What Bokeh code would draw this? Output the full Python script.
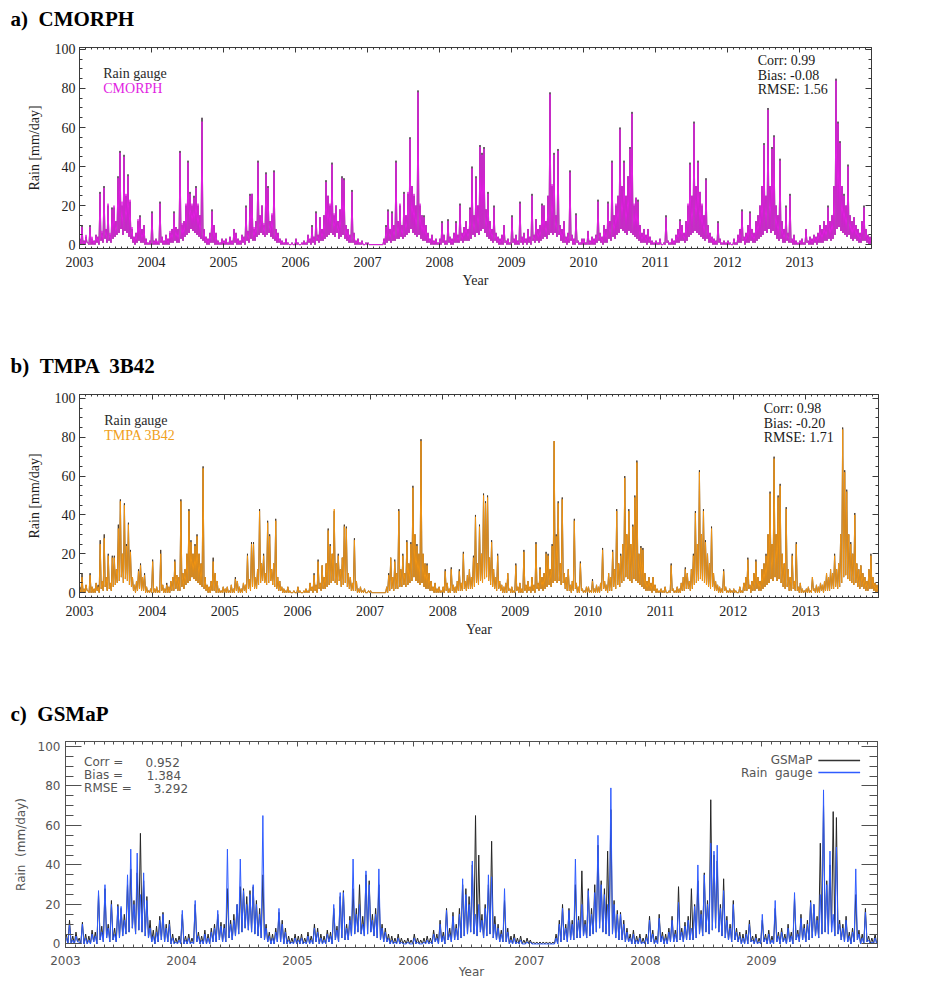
from bokeh.plotting import figure
from bokeh.models import (ColumnDataSource, Range1d, FixedTicker, LinearAxis, Label,
                          CustomJSTickFormatter)
from bokeh.embed import file_html
from bokeh.resources import INLINE

# ---------------- data (10-day resolution, 36 values per year) ----------------
years_ac = list(range(2003, 2014))          # panels a, b
years_c = list(range(2003, 2010))           # panel c
ytick_values = [0, 20, 40, 60, 80, 100]
titles = ["a) \u00a0CMORPH", "b) \u00a0TMPA \u00a03B42", "c) \u00a0GSMaP"]
stats_a = ["Corr: 0.99", "Bias: -0.08", "RMSE: 1.56"]
stats_b = ["Corr: 0.98", "Bias: -0.20", "RMSE: 1.71"]
stats_c_names = ["Corr =", "Bias =", "RMSE ="]
stats_c_values = ["0.952", "1.384", "3.292"]

# dekad maxima
gauge = [
    3,10,2,4,1,10,3,2,5,4,27,6,30,8,20,5,19,19,12,35,48,20,46,25,36,22,8,4,6,12,15,8,10,3,1,2,
    17,2,3,1,22,4,2,5,3,6,8,17,9,8,48,10,12,20,43,27,20,25,30,20,15,65,8,4,3,6,18,10,6,2,1,3,
    2,3,1,4,2,8,6,3,2,5,4,20,7,26,26,8,12,43,15,20,10,37,30,12,15,38,8,6,3,2,1,3,1,0,1,0,
    3,1,0,1,2,1,5,3,10,4,17,5,14,8,15,33,25,20,42,15,20,12,18,35,34,10,8,5,28,6,2,3,1,2,0,1,
    1,0,0,0,0,0,0,0,3,10,18,8,17,10,43,12,20,10,27,15,26,55,30,25,20,79,20,15,15,10,6,3,5,2,3,1,
    3,12,5,2,13,4,3,6,12,5,21,6,9,12,8,19,40,15,35,20,51,47,50,18,27,12,8,20,6,4,3,5,10,2,3,1,
    15,3,5,2,22,4,6,3,8,4,26,5,13,8,10,21,20,12,25,78,30,47,15,49,10,8,12,4,6,38,5,3,16,2,1,3,
    3,1,7,2,4,3,5,23,6,4,10,8,22,12,43,15,20,25,60,30,43,25,35,50,68,20,24,23,10,6,8,5,8,4,2,1,
    2,1,3,0,1,15,2,1,3,2,5,8,13,10,6,12,20,42,25,63,30,43,27,20,15,34,10,6,4,3,2,12,3,1,2,1,
    2,1,0,3,1,5,8,18,4,6,10,17,8,6,12,15,20,30,52,25,70,30,50,56,20,15,44,12,8,20,6,26,3,5,2,1,
    2,3,1,8,2,4,3,5,4,6,10,8,12,10,20,12,15,30,85,63,53,30,26,20,41,15,12,14,10,8,6,12,20,8,5,4,
]

cmorph = [
    3,9,2,5,1,9,4,2,5,4,26,7,29,8,21,6,18,20,12,34,47,22,45,26,35,23,9,4,6,13,14,8,10,3,1,2,
    16,2,3,2,21,4,2,5,3,7,8,16,9,8,47,11,12,21,42,26,21,24,29,21,15,63,8,4,3,6,17,10,6,2,1,3,
    2,3,1,4,2,8,6,3,2,5,4,19,7,25,26,9,12,42,15,20,11,36,29,12,16,37,8,6,3,2,1,3,1,0,1,0,
    3,1,0,1,2,1,5,3,9,4,16,5,14,8,15,32,25,21,41,16,20,12,18,34,33,10,8,5,27,6,2,3,1,2,0,1,
    1,0,0,0,0,0,0,0,3,9,17,8,16,10,42,12,21,10,26,15,27,54,30,26,20,78,21,15,14,10,6,3,5,2,3,1,
    3,11,5,2,12,4,3,6,11,5,20,6,9,12,8,18,39,15,34,20,50,46,49,18,26,12,8,19,6,4,3,5,10,2,3,1,
    14,3,5,2,21,4,6,3,8,4,25,5,13,8,10,20,20,12,25,77,31,46,15,48,10,8,12,4,6,37,5,3,15,2,1,3,
    3,1,7,2,4,3,5,22,6,4,10,8,21,12,42,15,21,25,59,30,42,25,35,49,67,21,24,22,10,6,8,5,8,4,2,1,
    2,1,3,0,1,14,2,1,3,2,5,8,12,10,6,12,21,41,25,62,30,42,27,21,15,33,10,6,4,3,2,11,3,1,2,1,
    2,1,0,3,1,5,8,17,4,6,10,16,8,6,12,15,20,30,51,25,69,30,49,55,20,15,43,12,8,19,6,25,3,5,2,1,
    2,3,1,8,2,4,3,5,4,6,10,8,12,10,19,12,15,30,84,62,52,30,25,20,40,15,12,14,10,8,6,12,19,8,5,4,
]

tmpa = [
    2,8,2,4,1,9,3,2,5,3,25,6,28,8,19,5,18,18,12,33,47,20,45,24,35,21,8,4,6,11,14,8,9,3,1,2,
    16,2,3,1,20,4,2,4,3,6,8,16,9,8,47,10,12,20,42,26,20,24,29,20,15,64,8,4,3,6,16,10,6,2,1,3,
    2,3,1,4,2,7,6,3,2,5,4,19,7,25,25,8,12,42,15,19,10,36,29,12,15,37,8,6,3,2,1,3,1,0,1,0,
    3,1,0,1,2,1,5,3,9,4,16,5,14,8,15,32,24,20,43,15,19,12,18,34,33,10,8,5,27,6,2,3,1,2,0,1,
    1,0,0,0,0,0,0,0,3,9,18,8,16,10,42,12,19,10,26,15,25,54,30,24,20,78,20,15,14,10,6,3,5,2,3,1,
    3,11,5,2,12,4,3,6,11,5,20,6,9,12,8,18,39,15,34,20,50,46,49,18,26,12,8,19,6,4,3,5,10,2,3,1,
    14,3,5,2,21,4,6,3,8,4,25,5,12,8,10,20,19,12,24,78,29,46,15,48,10,8,12,4,6,37,5,3,15,2,1,3,
    3,1,6,2,4,3,5,22,6,4,10,8,21,12,42,15,19,25,59,30,42,25,34,49,67,20,23,22,10,6,8,5,8,4,2,1,
    2,1,3,0,1,14,2,1,3,2,5,8,12,10,6,12,19,41,25,62,30,42,26,20,15,33,10,6,4,3,2,11,3,1,2,1,
    2,1,0,3,1,5,8,17,4,6,10,16,8,6,12,15,19,30,51,25,69,30,49,55,20,15,43,12,8,19,6,25,3,5,2,1,
    2,3,1,8,2,4,3,5,4,6,10,8,12,10,19,12,15,30,84,62,52,30,25,20,40,15,12,14,10,8,6,12,19,8,5,4,
]

gsmap = [
    5,12,4,6,3,11,5,4,7,6,25,9,28,10,22,8,20,18,15,30,38,22,36,56,32,24,12,7,9,14,16,10,12,5,3,4,
    15,4,5,3,20,6,4,7,5,8,10,15,11,10,28,12,15,20,29,28,24,27,29,22,18,35,10,6,5,8,16,12,8,4,3,5,
    4,5,3,6,4,10,8,5,4,7,6,18,9,24,27,10,14,28,18,30,14,35,32,15,18,30,10,8,5,4,3,5,3,2,3,2,
    5,3,2,3,4,3,7,5,12,6,18,8,16,10,18,30,28,24,40,65,45,15,20,30,52,14,10,7,22,8,4,5,3,4,2,3,
    2,1,1,1,1,1,1,1,5,12,20,10,18,12,30,14,37,12,28,18,30,50,32,28,47,68,22,17,16,12,8,5,7,4,5,3,
    5,14,7,4,15,6,5,8,14,7,29,8,11,14,28,20,32,17,36,22,73,45,42,20,33,14,10,22,8,6,5,7,12,4,5,3,
    12,5,7,4,18,6,8,5,10,6,23,7,15,10,12,22,20,14,51,70,32,40,67,64,12,10,14,6,8,25,7,5,18,4,3,5,
]

# dekad minima (low level between rain events)
trough = [
    0,0,0,1,0,0,0,0,1,0,2,1,3,1,2,1,3,4,5,6,8,5,7,6,4,3,1,0,1,2,1,1,0,0,0,0,
    0,0,0,0,1,0,0,0,0,1,1,2,1,1,3,2,4,5,6,8,7,6,5,4,3,2,1,0,0,1,1,0,0,0,0,0,
    0,0,0,0,0,1,0,0,0,1,0,2,1,3,2,2,4,5,6,5,4,5,6,4,3,2,1,1,0,0,0,0,0,0,0,0,
    0,0,0,0,0,0,1,0,1,0,2,1,2,2,3,4,5,6,5,4,6,3,4,5,3,2,1,1,1,0,0,0,0,0,0,0,
    0,0,0,0,0,0,0,0,0,1,2,1,2,2,3,3,4,3,4,5,6,8,6,5,4,5,3,2,2,1,1,0,0,0,0,0,
    0,1,0,0,1,0,0,1,1,1,2,1,2,2,2,3,5,4,6,5,7,8,6,4,3,2,1,2,1,0,0,0,1,0,0,0,
    1,0,0,0,1,0,1,0,1,0,2,1,2,1,2,3,4,3,5,6,5,6,4,5,2,1,1,0,1,2,0,0,1,0,0,0,
    0,0,0,0,0,0,1,2,1,0,1,1,3,2,4,3,5,6,8,7,6,5,7,6,5,4,3,2,1,1,1,0,1,0,0,0,
    0,0,0,0,0,1,0,0,0,0,1,1,2,2,1,2,4,5,6,7,6,5,4,3,2,3,1,1,0,0,0,1,0,0,0,0,
    0,0,0,0,0,1,1,2,0,1,1,2,1,1,2,3,4,5,7,6,8,6,7,5,3,2,3,1,1,2,1,1,0,0,0,0,
    0,0,0,1,0,0,0,1,0,1,1,1,2,2,3,2,3,5,8,9,7,6,5,4,5,3,2,3,2,1,1,2,2,1,0,0,
]

PER_YEAR = 36
PAGE_W = 925


def series_xy(years, peaks, lows):
    xs, ys = [], []
    k = 0
    for y in years:
        for i in range(PER_YEAR):
            xs.append(y + (i + 0.25) / PER_YEAR)
            ys.append(peaks[k])
            xs.append(y + (i + 0.75) / PER_YEAR)
            ys.append(lows[k])
            k += 1
    return xs, ys


blank = CustomJSTickFormatter(code="return ''")


def month_ticks(y0, y1):
    return [y0 + m / 12 for m in range((y1 - y0) * 12 + 1)]


def title_strip(height, text, x_px, y_px_from_top):
    """A thin figure that holds only the panel heading."""
    t = figure(width=PAGE_W, height=height, x_range=Range1d(0, PAGE_W),
               y_range=Range1d(0, height), output_backend="svg", toolbar_location=None,
               x_axis_location=None, y_axis_location=None, min_border=0)
    t.xgrid.visible = False
    t.ygrid.visible = False
    t.outline_line_color = None
    t.add_layout(Label(x=x_px, y=height - y_px_from_top, text=text,
                       text_font="Liberation Serif", text_font_size="21px",
                       text_font_style="bold", text_baseline="middle", text_color="black"))
    return t


def build(width, height, borders, xr, yr, years, style):
    left, right, top, bottom = borders
    p = figure(width=width, height=height, x_range=Range1d(*xr), y_range=Range1d(*yr),
               output_backend="svg", toolbar_location=None,
               min_border_left=left, min_border_right=right,
               min_border_top=top, min_border_bottom=bottom)
    p.xgrid.visible = False
    p.ygrid.visible = False
    p.outline_line_color = style["axis_color"]

    xt = FixedTicker(ticks=years, minor_ticks=month_ticks(xr[0], xr[1]))
    yt = FixedTicker(ticks=ytick_values, minor_ticks=list(range(0, 101, 5)))
    xa = p.below[0]
    ya = p.left[0]
    xa.ticker = xt
    ya.ticker = yt
    xa.major_label_overrides = {y: str(y) for y in years}
    for ax, tin, min_in in ((xa, style["xmaj"], style["xmin"]), (ya, style["ymaj"], style["ymin"])):
        ax.major_tick_in = tin
        ax.major_tick_out = 0
        ax.minor_tick_in = min_in
        ax.minor_tick_out = 0
        ax.axis_line_color = style["axis_color"]
        ax.major_tick_line_color = style["axis_color"]
        ax.minor_tick_line_color = style["axis_color"]
        ax.major_label_text_font = style["font"]
        ax.major_label_text_font_size = style["tick_size"]
        ax.major_label_text_color = style["text_color"]
        ax.axis_label_text_font = style["font"]
        ax.axis_label_text_font_size = style["label_size"]
        ax.axis_label_text_font_style = "normal"
        ax.axis_label_text_color = style["text_color"]
    xa.major_label_standoff = style["x_standoff"]
    ya.major_label_standoff = style["y_standoff"]

    for loc, tk, tin, min_in in (("right", yt, style["ymaj"], style["ymin"]),
                                 ("above", xt, style["xmaj"], style["xmin"])):
        ax = LinearAxis(ticker=tk, formatter=blank, major_tick_in=tin, major_tick_out=0,
                        minor_tick_in=min_in, minor_tick_out=0,
                        axis_line_color=style["axis_color"],
                        major_tick_line_color=style["axis_color"],
                        minor_tick_line_color=style["axis_color"],
                        major_label_standoff=0)
        p.add_layout(ax, loc)
    return p


def draw_series(p, years, peaks, lows, color, alpha=1.0, width=1.0):
    xs, ys = series_xy(years, peaks, lows)
    src = ColumnDataSource(dict(t=xs, v=ys))
    p.line(x="t", y="v", source=src, line_color=color, line_width=width, line_alpha=alpha)


serif_style = dict(axis_color="#3a3a3a", font="Liberation Serif", tick_size="14px",
                   label_size="14px", text_color="#1e1e1e", xmaj=5, xmin=2, ymaj=6, ymin=3,
                   x_standoff=8, y_standoff=4)
sans_style = dict(axis_color="#505050", font="DejaVu Sans", tick_size="12px",
                  label_size="12px", text_color="#555555", xmaj=5, xmin=3, ymaj=16, ymin=8,
                  x_standoff=8, y_standoff=5)

# ---------------- panel a  (page 0 .. 335) ----------------
ta = title_strip(36, titles[0], 10, 18)
pa = build(PAGE_W, 299, (79, 54, 11, 87), (2003, 2014), (-2, 101), years_ac, serif_style)
pa.below[0].axis_label = "Year"
pa.below[0].axis_label_standoff = 3
pa.left[0].axis_label = "Rain [mm/day]"
pa.left[0].axis_label_standoff = 10
draw_series(pa, years_ac, gauge, trough, "#3c2c3c")
draw_series(pa, years_ac, cmorph, trough, "#e21ee2")
pa.add_layout(Label(x=2003.33, y=87.7, text="Rain gauge", text_font="Liberation Serif",
                    text_font_size="14px", text_baseline="middle", text_color="#2a2a2a"))
pa.add_layout(Label(x=2003.33, y=80.0, text="CMORPH", text_font="Liberation Serif",
                    text_font_size="14px", text_baseline="middle", text_color="#e21ee2"))
for txt, yy in zip(stats_a, (94.3, 86.6, 79.5)):
    pa.add_layout(Label(x=2012.42, y=yy, text=txt, text_font="Liberation Serif",
                        text_font_size="14px", text_baseline="middle", text_color="#1a1a1a"))

# ---------------- panel b  (page 335 .. 690) ----------------
tb = title_strip(45, titles[1], 10, 30)
pb = build(PAGE_W, 310, (79, 47, 14, 93), (2003, 2014), (-2.5, 102), years_ac, serif_style)
pb.below[0].axis_label = "Year"
pb.below[0].axis_label_standoff = 3
pb.left[0].axis_label = "Rain [mm/day]"
pb.left[0].axis_label_standoff = 10
draw_series(pb, years_ac, gauge, trough, "#4a3a2a")
draw_series(pb, years_ac, tmpa, trough, "#f09414")
pb.add_layout(Label(x=2003.34, y=88.6, text="Rain gauge", text_font="Liberation Serif",
                    text_font_size="14px", text_baseline="middle", text_color="#2a2a2a"))
pb.add_layout(Label(x=2003.34, y=80.9, text="TMPA 3B42", text_font="Liberation Serif",
                    text_font_size="14px", text_baseline="middle", text_color="#f0a020"))
for txt, yy in zip(stats_b, (94.8, 87.1, 79.8)):
    pb.add_layout(Label(x=2012.42, y=yy, text=txt, text_font="Liberation Serif",
                        text_font_size="14px", text_baseline="middle", text_color="#1a1a1a"))

# ---------------- panel c  (page 690 .. 981) ----------------
tc = title_strip(36, titles[2], 10, 23)
pc = build(PAGE_W, 255, (65, 48, 15, 33), (2003, 2010), (-1.8, 102.5), years_c, sans_style)
pc.below[0].axis_label = "Year"
pc.below[0].axis_label_standoff = -3
pc.left[0].axis_label = "Rain \u00a0(mm/day)"
pc.left[0].axis_label_standoff = 7
draw_series(pc, years_c, gsmap, trough, "#252525")
draw_series(pc, years_c, gauge[:len(years_c) * PER_YEAR], trough, "#2f5cff")
for name, val, yy, xv in zip(stats_c_names, stats_c_values, (91.9, 85.3, 78.8),
                             (2003.69, 2003.70, 2003.76)):
    pc.add_layout(Label(x=2003.16, y=yy, text=name, text_font="DejaVu Sans",
                        text_font_size="12px", text_baseline="middle", text_color="#555555"))
    pc.add_layout(Label(x=xv, y=yy, text=val, text_font="DejaVu Sans",
                        text_font_size="12px", text_baseline="middle", text_color="#555555"))
legend_c = [("GSMaP", "#333333", 92.9), ("Rain \u00a0gauge", "#2f5cff", 86.8)]
for name, col, yy in legend_c:
    pc.add_layout(Label(x=2009.44, y=yy, text=name, text_font="DejaVu Sans",
                        text_font_size="12px", text_align="right", text_baseline="middle",
                        text_color="#555555"))
    pc.line(x=[2009.49, 2009.85], y=[yy, yy], line_color=col, line_width=1.5)

open("out.html", "w").write(file_html([ta, pa, tb, pb, tc, pc], INLINE))
